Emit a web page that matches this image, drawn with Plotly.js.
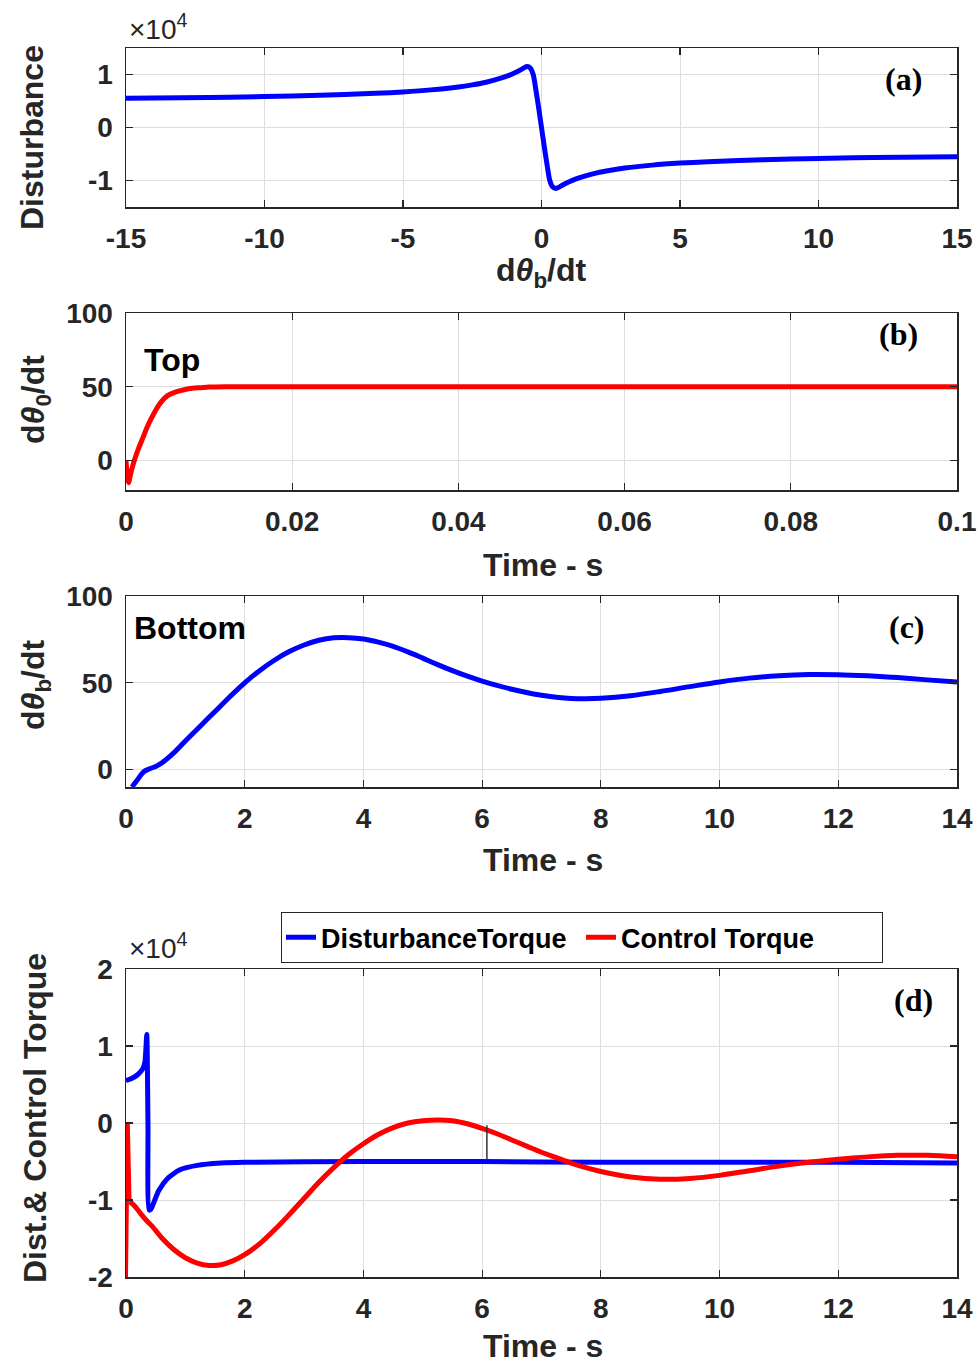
<!DOCTYPE html>
<html>
<head>
<meta charset="utf-8">
<script src="https://cdn.plot.ly/plotly-3.0.1.min.js"></script>
<style>html,body{margin:0;padding:0;background:#fff;}#chart{width:978px;height:1366px;}</style>
</head>
<body>
<div id="chart"></div>
<script>
// ---------- Panel (a): Disturbance (x10^4) vs dθb/dt ----------
const aRate = [-15,-12,-10,-8,-6,-5,-4,-3,-2.5,-2,-1.5,-1.2,-1,-0.8,-0.65,-0.52,-0.4,-0.3,-0.2,-0.1,0,0.1,0.2,0.3,0.4,0.52,0.65,0.8,1,1.2,1.5,2,2.5,3,4,5,6,8,10,12,15];
const aDist = [0.55,0.567,0.585,0.61,0.645,0.672,0.71,0.765,0.805,0.855,0.925,0.98,1.025,1.075,1.12,1.15,1.12,1.0,0.7,0.36,0,-0.36,-0.7,-1.0,-1.12,-1.15,-1.12,-1.075,-1.025,-0.98,-0.925,-0.855,-0.805,-0.765,-0.71,-0.672,-0.645,-0.61,-0.585,-0.567,-0.55];

// ---------- Panel (b): Top speed ----------
const bTime = [0,0.0003,0.0006,0.001,0.0015,0.002,0.0025,0.003,0.004,0.005,0.006,0.007,0.008,0.009,0.01,0.012,0.015,0.02,0.04,0.06,0.08,0.1];
const bTop  = [0,-15,-8,0,8,15,22,28,38,44,46.5,48,49,49.4,49.8,50,50,50,50,50,50,50];

// ---------- Panel (c): Bottom speed ----------
const cTime = [0.1,0.2,0.3,0.4,0.5,0.6,0.8,1,1.25,1.5,1.75,2,2.25,2.5,2.75,3,3.25,3.5,3.75,4,4.25,4.5,4.75,5,5.25,5.5,5.75,6,6.25,6.5,6.75,7,7.25,7.5,7.75,8,8.5,9,9.5,10,10.5,11,11.5,12,12.5,13,13.5,14];
const cBottom = [-10,-5.5,-1.2,0.5,1.8,3.8,9.5,16.5,25,33.5,42,50,57,63,68,71.8,74.5,75.9,76,75.2,73.4,71,67.8,64.2,60.5,57,53.8,51,48.5,46.3,44.4,42.8,41.7,41,40.8,41.1,42.6,45,47.8,50.5,52.7,54.1,54.8,54.7,54,53,51.7,50.4];

// ---------- Panel (d): torques (x10^4) ----------
const dTimeDist = [0,0.1,0.2,0.28,0.32,0.35,0.37,0.39,0.42,0.46,0.55,0.7,0.9,1.2,1.6,2,4,6,8,10,12,14];
const dDist     = [0.55,0.58,0.63,0.7,0.8,1.15,0,-1.13,-1.12,-1.05,-0.88,-0.72,-0.61,-0.55,-0.52,-0.51,-0.5,-0.5,-0.51,-0.51,-0.51,-0.52];
const dTimeCtrl = [0,0.03,0.06,0.15,0.25,0.35,0.45,0.6,0.8,1,1.2,1.4,1.6,1.8,2,2.25,2.5,2.75,3,3.25,3.5,3.75,4,4.25,4.5,4.75,5,5.25,5.5,5.75,6,6.25,6.5,6.75,7,7.25,7.5,7.75,8,8.5,9,9.5,10,10.5,11,11.5,12,12.5,13,13.5,14];
const dCtrl     = [-2,0,-1.02,-1.08,-1.18,-1.27,-1.35,-1.49,-1.64,-1.75,-1.82,-1.85,-1.84,-1.79,-1.71,-1.57,-1.39,-1.19,-0.98,-0.77,-0.58,-0.41,-0.27,-0.15,-0.06,0,0.03,0.04,0.03,-0.01,-0.07,-0.14,-0.22,-0.3,-0.38,-0.45,-0.52,-0.58,-0.63,-0.7,-0.73,-0.72,-0.68,-0.62,-0.56,-0.51,-0.47,-0.44,-0.42,-0.42,-0.44];
const cursorTime = [6.08,6.08];
const cursorVal  = [-0.03,-0.47];

// ---------- tick labels ----------
const aXTicks = [-15,-10,-5,0,5,10,15];
const aXText  = ['-15','-10','-5','0','5','10','15'];
const aYTicks = [-1,0,1];
const aYText  = ['-1','0','1'];
const bXTicks = [0,0.02,0.04,0.06,0.08,0.1];
const bXText  = ['0','0.02','0.04','0.06','0.08','0.1'];
const speedYTicks = [0,50,100];
const speedYText  = ['0','50','100'];
const tXTicks = [0,2,4,6,8,10,12,14];
const tXText  = ['0','2','4','6','8','10','12','14'];
const dYTicks = [-2,-1,0,1,2];
const dYText  = ['-2','-1','0','1','2'];

const W = 978, H = 1366;
const px = v => v / W;
const py = v => 1 - v / H;
const FONT = 'Liberation Sans, Arial, sans-serif';
const SERIF = 'Liberation Serif, Times New Roman, serif';
const DARK = '#262626';

function axis(extra) {
  return Object.assign({
    showline: true, linecolor: DARK, linewidth: 1.5, mirror: 'ticks',
    ticks: 'inside', ticklen: 7, tickwidth: 1.2, tickcolor: DARK,
    showgrid: true, gridcolor: '#dedede', gridwidth: 1,
    zeroline: false, tickmode: 'array', fixedrange: true,
    ticklabelstandoff: 6,
    tickfont: {family: FONT, size: 28, color: DARK, weight: 'bold'},
    automargin: false
  }, extra);
}
const xDom = [px(126), px(957)];

// control torque: initial switching spike drawn straight, smooth response as spline
const nSpike = 3;
const traces = [
  {x: aRate, y: aDist, xaxis: 'x', yaxis: 'y', type: 'scatter', mode: 'lines',
   line: {color: '#0000ff', width: 5, shape: 'spline', smoothing: 0.9}, showlegend: false, hoverinfo: 'skip'},
  {x: bTime, y: bTop, xaxis: 'x2', yaxis: 'y2', type: 'scatter', mode: 'lines',
   line: {color: '#ff0000', width: 5, shape: 'spline', smoothing: 0.9}, showlegend: false, hoverinfo: 'skip'},
  {x: cTime, y: cBottom, xaxis: 'x3', yaxis: 'y3', type: 'scatter', mode: 'lines',
   line: {color: '#0000ff', width: 5, shape: 'spline', smoothing: 1}, showlegend: false, hoverinfo: 'skip'},
  {x: dTimeDist, y: dDist, xaxis: 'x4', yaxis: 'y4', type: 'scatter', mode: 'lines', name: 'DisturbanceTorque',
   line: {color: '#0000ff', width: 5, shape: 'spline', smoothing: 0.6}, hoverinfo: 'skip'},
  {x: dTimeCtrl.slice(nSpike - 1), y: dCtrl.slice(nSpike - 1), xaxis: 'x4', yaxis: 'y4', type: 'scatter', mode: 'lines',
   name: 'Control Torque', legendgroup: 'ctrl',
   line: {color: '#ff0000', width: 5, shape: 'spline', smoothing: 1}, hoverinfo: 'skip'},
  {x: dTimeCtrl.slice(0, nSpike), y: dCtrl.slice(0, nSpike), xaxis: 'x4', yaxis: 'y4', type: 'scatter', mode: 'lines',
   name: 'Control Torque', legendgroup: 'ctrl', showlegend: false,
   line: {color: '#ff0000', width: 4}, hoverinfo: 'skip'},
  {x: cursorTime, y: cursorVal, xaxis: 'x4', yaxis: 'y4', type: 'scatter', mode: 'lines',
   line: {color: '#333333', width: 1.5}, showlegend: false, hoverinfo: 'skip'}
];

function ann(text, x, y, opts) {
  return Object.assign({
    text: text, xref: 'paper', yref: 'paper', x: px(x), y: py(y),
    xanchor: 'center', yanchor: 'middle', showarrow: false,
    font: {family: FONT, size: 32, color: '#000', weight: 'bold'}
  }, opts || {});
}
const titleFont = {family: FONT, size: 32, color: DARK, weight: 'bold'};
const labelFont = {family: SERIF, size: 32, color: '#000', weight: 'bold'};

const annotations = [
  ann('×10<sup>4</sup>', 127, 27, {xanchor: 'left', font: {family: FONT, size: 28, color: DARK}}),
  ann('×10<sup>4</sup>', 127, 946, {xanchor: 'left', font: {family: FONT, size: 28, color: DARK}}),
  ann('(a)', 903, 79, {font: labelFont}),
  ann('(b)', 898, 334, {font: labelFont}),
  ann('(c)', 907, 627, {font: labelFont}),
  ann('(d)', 913, 1000, {font: labelFont}),
  ann('Top', 172, 360),
  ann('Bottom', 190, 628),
  ann('d<i>θ</i><sub>b</sub>/dt', 541, 272, {font: titleFont}),
  ann('Time - s', 543, 565, {font: titleFont}),
  ann('Time - s', 543, 860, {font: titleFont}),
  ann('Time - s', 543, 1366, {yanchor: 'bottom', font: titleFont}),
  ann('Disturbance', 32, 138, {textangle: -90, font: titleFont}),
  ann('d<i>θ</i><sub>0</sub>/dt', 35, 400, {textangle: -90, font: titleFont}),
  ann('d<i>θ</i><sub>b</sub>/dt', 35, 685, {textangle: -90, font: titleFont}),
  ann('Dist.& Control Torque', 35, 1118, {textangle: -90, font: titleFont})
];

const layout = {
  width: W, height: H,
  margin: {l: 0, r: 0, t: 0, b: 0, autoexpand: false},
  paper_bgcolor: '#ffffff', plot_bgcolor: '#ffffff',
  showlegend: true,
  legend: {
    orientation: 'h', x: px(281), y: py(912), xanchor: 'left', yanchor: 'top',
    bgcolor: '#ffffff', bordercolor: DARK, borderwidth: 1.2,
    font: {family: FONT, size: 27, color: '#000', weight: 'bold'},
    itemwidth: 30, tracegroupgap: 0, entrywidth: 255, entrywidthmode: 'pixels'
  },
  xaxis:  axis({domain: xDom, anchor: 'y',  range: [-15, 15], tickvals: aXTicks, ticktext: aXText}),
  yaxis:  axis({domain: [py(207), py(48)], anchor: 'x', range: [-1.5, 1.5], tickvals: aYTicks, ticktext: aYText}),
  xaxis2: axis({domain: xDom, anchor: 'y2', range: [0, 0.1], tickvals: bXTicks, ticktext: bXText}),
  yaxis2: axis({domain: [py(490), py(313)], anchor: 'x2', range: [-20, 100], tickvals: speedYTicks, ticktext: speedYText}),
  xaxis3: axis({domain: xDom, anchor: 'y3', range: [0, 14], tickvals: tXTicks, ticktext: tXText}),
  yaxis3: axis({domain: [py(787), py(596)], anchor: 'x3', range: [-10, 100], tickvals: speedYTicks, ticktext: speedYText}),
  xaxis4: axis({domain: xDom, anchor: 'y4', range: [0, 14], tickvals: tXTicks, ticktext: tXText}),
  yaxis4: axis({domain: [py(1277), py(969)], anchor: 'x4', range: [-2, 2], tickvals: dYTicks, ticktext: dYText}),
  annotations: annotations
};

Plotly.newPlot('chart', traces, layout, {displayModeBar: false, staticPlot: true});
</script>
</body>
</html>
